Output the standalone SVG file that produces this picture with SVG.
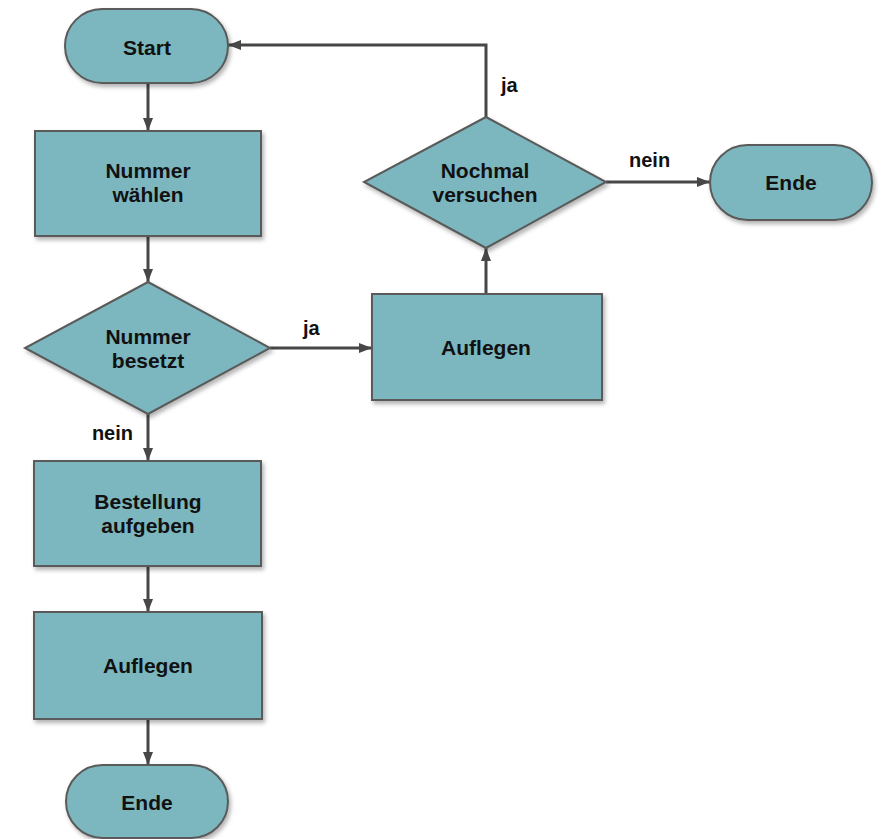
<svg xmlns="http://www.w3.org/2000/svg" width="887" height="839" viewBox="0 0 887 839">
  <defs>
    <filter id="shadow" x="-10%" y="-10%" width="130%" height="130%">
      <feDropShadow dx="2" dy="3" stdDeviation="2" flood-color="#000" flood-opacity="0.3"/>
    </filter>
    <marker id="arrow" viewBox="0 0 13 10" refX="13" refY="5" markerWidth="13" markerHeight="10" markerUnits="userSpaceOnUse" orient="auto">
      <path d="M0,0 L13,5 L0,10 Z" fill="#474747"/>
    </marker>
  </defs>
  <style>
    .shape { fill: #7bb7bf; stroke: #5a5a5a; stroke-width: 2; filter: url(#shadow); }
    .label { font-family: "Liberation Sans", Arial, sans-serif; font-weight: bold; font-size: 21px; fill: #111; text-anchor: middle; }
    .edge { font-family: "Liberation Sans", Arial, sans-serif; font-weight: bold; font-size: 20px; fill: #111; }
    .conn { fill: none; stroke: #474747; stroke-width: 3; marker-end: url(#arrow); }
  </style>
  <rect width="887" height="839" fill="#fff"/>

  <g id="connectors">
    <line class="conn" x1="148" y1="83" x2="148" y2="131"/>
    <line class="conn" x1="148" y1="236" x2="148" y2="282"/>
    <line class="conn" x1="148" y1="414" x2="148" y2="461"/>
    <line class="conn" x1="148" y1="566" x2="148" y2="612"/>
    <line class="conn" x1="148" y1="719" x2="148" y2="765"/>
    <line class="conn" x1="270" y1="348" x2="372" y2="348"/>
    <line class="conn" x1="486" y1="294" x2="486" y2="248"/>
    <line class="conn" x1="606" y1="182" x2="710" y2="182"/>
    <polyline class="conn" points="486,117 486,45 228,45"/>
    <text class="edge" x="501" y="92">ja</text>
    <text class="edge" x="629" y="167">nein</text>
    <text class="edge" x="303" y="335">ja</text>
    <text class="edge" x="133" y="440" text-anchor="end">nein</text>
  </g>

  <g id="start">
    <rect class="shape" x="65" y="9" width="163" height="74" rx="37"/>
    <text class="label" x="147" y="55">Start</text>
  </g>

  <g id="nummer-waehlen">
    <rect class="shape" x="35" y="131" width="226" height="105"/>
    <text class="label" x="148" y="178">Nummer</text>
    <text class="label" x="148" y="202">wählen</text>
  </g>

  <g id="nummer-besetzt">
    <polygon class="shape" points="148,282 270,348 148,414 25,348"/>
    <text class="label" x="148" y="344">Nummer</text>
    <text class="label" x="148" y="368">besetzt</text>
  </g>

  <g id="bestellung-aufgeben">
    <rect class="shape" x="34" y="461" width="227" height="105"/>
    <text class="label" x="148" y="509">Bestellung</text>
    <text class="label" x="148" y="533">aufgeben</text>
  </g>

  <g id="auflegen-1">
    <rect class="shape" x="34" y="612" width="228" height="107"/>
    <text class="label" x="148" y="673">Auflegen</text>
  </g>

  <g id="ende-1">
    <rect class="shape" x="66" y="765" width="162" height="73" rx="36.5"/>
    <text class="label" x="147" y="810">Ende</text>
  </g>

  <g id="auflegen-2">
    <rect class="shape" x="372" y="294" width="230" height="106"/>
    <text class="label" x="486" y="355">Auflegen</text>
  </g>

  <g id="nochmal-versuchen">
    <polygon class="shape" points="486,117 606,182 486,248 364,182"/>
    <text class="label" x="485" y="178">Nochmal</text>
    <text class="label" x="485" y="202">versuchen</text>
  </g>

  <g id="ende-2">
    <rect class="shape" x="710" y="145" width="162" height="75" rx="37.5"/>
    <text class="label" x="791" y="190">Ende</text>
  </g>
</svg>
